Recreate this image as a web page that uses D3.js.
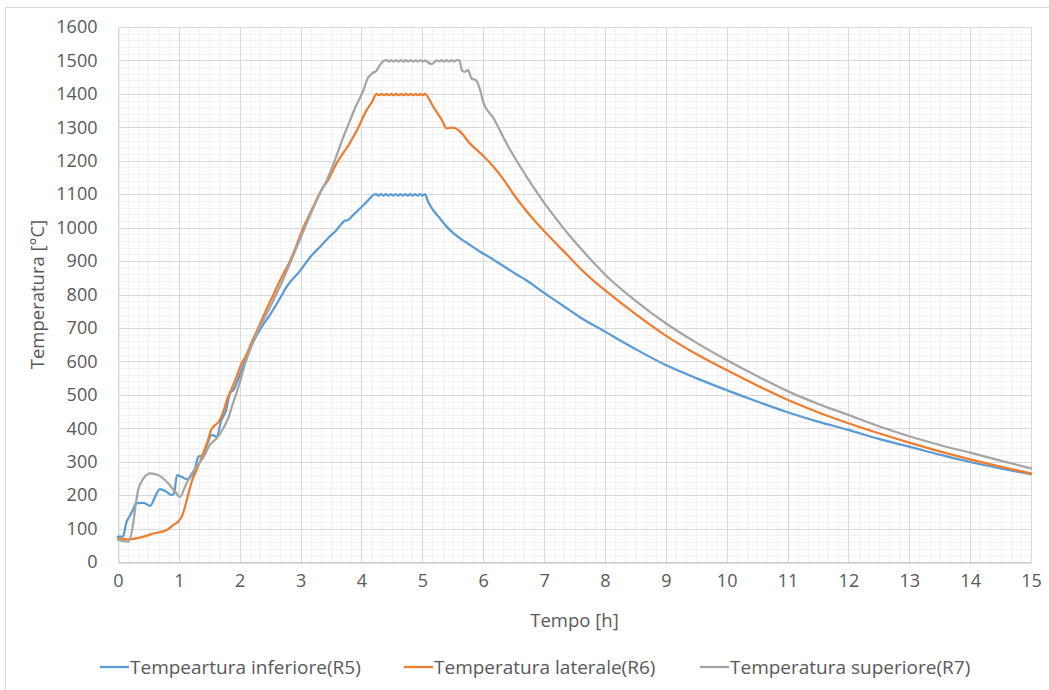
<!DOCTYPE html>
<html>
<head>
<meta charset="utf-8">
<script src="https://cdn.jsdelivr.net/npm/d3@7"></script>
<style>
  html, body { margin: 0; padding: 0; background: #fff; }
  svg { display: block; }
  text { font-family: "Open Sans", "Noto Sans", sans-serif; fill: #595959; }
</style>
</head>
<body>
<svg id="chart" width="1049" height="690"></svg>
<script>
// Temperature histories of three thermocouples (time in hours, temperature in °C)
const timeR5 = [0,0.08,0.14,0.20,0.25,0.30,0.42,0.53,0.62,0.69,0.78,0.88,0.92,0.97,1.05,1.13,1.18,1.26,1.32,1.38,1.45,1.54,1.62,1.70,1.77,1.84,1.90,1.97,2.05,2.20,2.35,2.50,2.65,2.77,3.00,3.15,3.32,3.45,3.59,3.73,3.78,3.85,3.98,4.10,4.20,
  4.24,4.28,4.32,4.36,4.40,4.44,4.48,4.52,4.56,4.60,4.64,4.68,4.72,4.76,4.80,4.84,4.88,4.92,4.96,5.00,5.04,
  5.10,5.18,5.30,5.40,5.50,5.62,5.80,5.95,6.10,6.22,6.40,6.55,6.69,7.00,7.30,7.59,8.00,8.50,9.00,9.50,10.00,10.50,11.00,11.50,12.00,12.50,13.00,13.50,14.00,14.50,15.00];
const tempR5 = [76,76,120,140,158,176,177,168,200,218,212,200,205,260,254,248,252,275,315,318,345,380,375,425,450,505,515,545,585,650,700,740,785,823,873,910,943,968,993,1021,1023,1035,1058,1080,1098,
  1100,1096,1100,1096,1100,1096,1100,1096,1100,1096,1100,1096,1100,1096,1100,1096,1100,1096,1100,1096,1100,
  1075,1052,1025,1003,985,968,946,928,912,898,877,860,845,805,768,732,689,637,589,550,514,480,448,420,395,368,345,321,299,280,263];

const timeR6 = [0,0.18,0.42,0.60,0.80,0.92,0.99,1.06,1.13,1.21,1.29,1.40,1.48,1.53,1.58,1.65,1.73,1.80,1.87,1.95,2.03,2.10,2.20,2.28,2.36,2.45,2.55,2.63,2.72,2.80,2.88,2.96,3.04,3.15,3.26,3.35,3.45,3.60,3.80,3.95,4.08,4.17,4.25,
  4.29,4.33,4.37,4.41,4.45,4.49,4.53,4.57,4.61,4.65,4.69,4.73,4.77,4.81,4.85,4.89,4.93,4.97,5.01,5.04,
  5.18,5.32,5.40,5.48,5.54,5.62,5.78,6.00,6.17,6.35,6.49,6.70,6.85,7.00,7.20,7.40,7.60,7.80,8.00,8.50,9.00,9.50,10.00,10.50,11.00,11.50,12.00,12.50,13.00,13.50,14.00,14.50,15.00];
const tempR6 = [71,68,76,86,96,112,121,141,185,240,275,325,365,395,407,418,450,490,519,555,594,615,659,690,724,760,798,830,863,890,923,960,998,1040,1083,1115,1142,1195,1250,1300,1350,1375,1400,
  1396,1400,1396,1400,1396,1400,1396,1400,1396,1400,1396,1400,1396,1400,1396,1400,1396,1400,1396,1400,
  1361,1322,1297,1299,1297,1287,1252,1215,1182,1140,1102,1052,1020,990,952,915,877,843,813,742,677,622,574,528,485,448,415,385,357,331,307,285,265];

const timeR7 = [0,0.17,0.25,0.29,0.33,0.42,0.53,0.66,0.80,0.94,1.02,1.10,1.18,1.29,1.40,1.51,1.62,1.73,1.81,1.89,1.98,2.09,2.28,2.50,2.72,2.94,3.10,3.32,3.43,3.55,3.70,3.80,3.90,4.03,4.10,4.18,4.25,4.30,4.36,
  4.41,4.45,4.49,4.53,4.57,4.61,4.65,4.69,4.73,4.77,4.81,4.85,4.89,4.93,4.97,5.01,5.05,5.08,5.15,5.24,5.28,5.32,5.36,5.40,5.44,5.48,5.52,5.56,5.61,
  5.65,5.70,5.75,5.81,5.88,5.95,6.00,6.17,6.39,6.60,6.80,7.00,7.20,7.40,7.60,7.80,8.00,8.50,9.00,9.50,10.00,10.50,11.00,11.50,12.00,12.50,13.00,13.50,14.00,14.50,15.00];
const tempR7 = [66,61,116,170,215,250,265,260,240,210,195,225,255,285,312,350,370,400,430,475,524,594,684,763,848,943,1013,1103,1142,1195,1270,1315,1360,1410,1445,1462,1470,1486,1498,
  1501,1497,1501,1497,1501,1497,1501,1497,1501,1497,1501,1497,1501,1497,1501,1497,1500,1496,1489,1500,1497,1501,1497,1501,1497,1501,1497,1501,1500,
  1471,1466,1471,1446,1441,1411,1376,1327,1250,1185,1128,1075,1026,980,938,898,860,782,714,656,604,556,511,473,440,406,376,350,327,303,280];

const seriesNames = ["Tempeartura inferiore(R5)", "Temperatura laterale(R6)", "Temperatura superiore(R7)"];
const seriesColors = ["#5B9BD5", "#ED7D31", "#A5A5A5"];
const xTicks = d3.range(0, 16, 1);
const yTicks = d3.range(0, 1700, 100);

const series = [
  { name: seriesNames[0], color: seriesColors[0], t: timeR5, v: tempR5 },
  { name: seriesNames[1], color: seriesColors[1], t: timeR6, v: tempR6 },
  { name: seriesNames[2], color: seriesColors[2], t: timeR7, v: tempR7 }
];

const svg = d3.select("#chart");
const plot = { left: 118, top: 27, right: 1031, bottom: 562 };

// chart frame
svg.append("rect")
  .attr("x", 5.5).attr("y", 7.5).attr("width", 1100).attr("height", 700)
  .attr("fill", "#fff").attr("stroke", "#d9d9d9").attr("stroke-width", 1);

const x = d3.scaleLinear().domain([0, 15]).range([plot.left, plot.right]);
const y = d3.scaleLinear().domain([0, 1600]).range([plot.bottom, plot.top]);

const grid = svg.append("g");
// minor grid: 10 minutes along x, 20 °C along y
const xMinor = d3.range(0, 15 * 6 + 1).map(i => i / 6).filter((d, i) => i % 6 !== 0);
const yMinor = d3.range(0, 1600 / 20 + 1).map(i => i * 20).filter(d => d % 100 !== 0);
grid.selectAll(".xm").data(xMinor).join("line")
  .attr("x1", d => Math.round(x(d)) + 0.5).attr("x2", d => Math.round(x(d)) + 0.5)
  .attr("y1", plot.top).attr("y2", plot.bottom)
  .attr("stroke", "#f2f2f2").attr("stroke-width", 1);
grid.selectAll(".ym").data(yMinor).join("line")
  .attr("y1", d => Math.round(y(d)) + 0.5).attr("y2", d => Math.round(y(d)) + 0.5)
  .attr("x1", plot.left).attr("x2", plot.right)
  .attr("stroke", "#f2f2f2").attr("stroke-width", 1);
// major grid
grid.selectAll(".xM").data(xTicks).join("line")
  .attr("x1", d => Math.round(x(d)) + 0.5).attr("x2", d => Math.round(x(d)) + 0.5)
  .attr("y1", plot.top).attr("y2", plot.bottom)
  .attr("stroke", "#d9d9d9").attr("stroke-width", 1);
grid.selectAll(".yM").data(yTicks).join("line")
  .attr("y1", d => Math.round(y(d)) + 0.5).attr("y2", d => Math.round(y(d)) + 0.5)
  .attr("x1", plot.left).attr("x2", plot.right)
  .attr("stroke", "#d9d9d9").attr("stroke-width", 1);

// axes
const xAxis = svg.append("g")
  .attr("transform", `translate(0,${Math.round(y(0)) + 0.5})`)
  .call(d3.axisBottom(x).tickValues(xTicks).tickSize(0).tickPadding(12).tickFormat(d3.format("d")));
xAxis.select(".domain").attr("stroke", "#bfbfbf");
xAxis.selectAll("text").style("font-size", "18px").attr("fill", "#595959");

const yAxis = svg.append("g")
  .attr("transform", `translate(${Math.round(x(0)) + 0.5},0)`)
  .call(d3.axisLeft(y).tickValues(yTicks).tickSize(0).tickPadding(21).tickFormat(d3.format("d")));
yAxis.select(".domain").attr("stroke", "#d9d9d9");
yAxis.selectAll("text").style("font-size", "18px").attr("fill", "#595959");

// axis titles
svg.append("text")
  .attr("x", (plot.left + plot.right) / 2).attr("y", 627)
  .attr("text-anchor", "middle").style("font-size", "18.5px")
  .text("Tempo [h]");
svg.append("text")
  .attr("transform", `translate(44,${(plot.top + plot.bottom) / 2}) rotate(-90)`)
  .attr("text-anchor", "middle").style("font-size", "18.5px")
  .text("Temperatura [°C]");

// series lines
const line = d3.line()
  .x(d => x(d[0]))
  .y(d => y(d[1]))
  .curve(d3.curveMonotoneX);

svg.append("g").selectAll("path").data(series).join("path")
  .attr("d", s => line(s.t.map((t, i) => [t, s.v[i]])))
  .attr("fill", "none")
  .attr("stroke", s => s.color)
  .attr("stroke-width", 2.25)
  .attr("stroke-linejoin", "round")
  .attr("stroke-linecap", "round");

// legend
const legendX = [100, 404, 700];
const legend = svg.append("g").selectAll("g").data(series).join("g")
  .attr("transform", (d, i) => `translate(${legendX[i]},667)`);
legend.append("line")
  .attr("x1", 0).attr("x2", 29).attr("y1", 0).attr("y2", 0)
  .attr("stroke", d => d.color).attr("stroke-width", 2.25);
legend.append("text")
  .attr("x", 30).attr("y", 6.5)
  .style("font-size", "19px")
  .text(d => d.name);
</script>
</body>
</html>
